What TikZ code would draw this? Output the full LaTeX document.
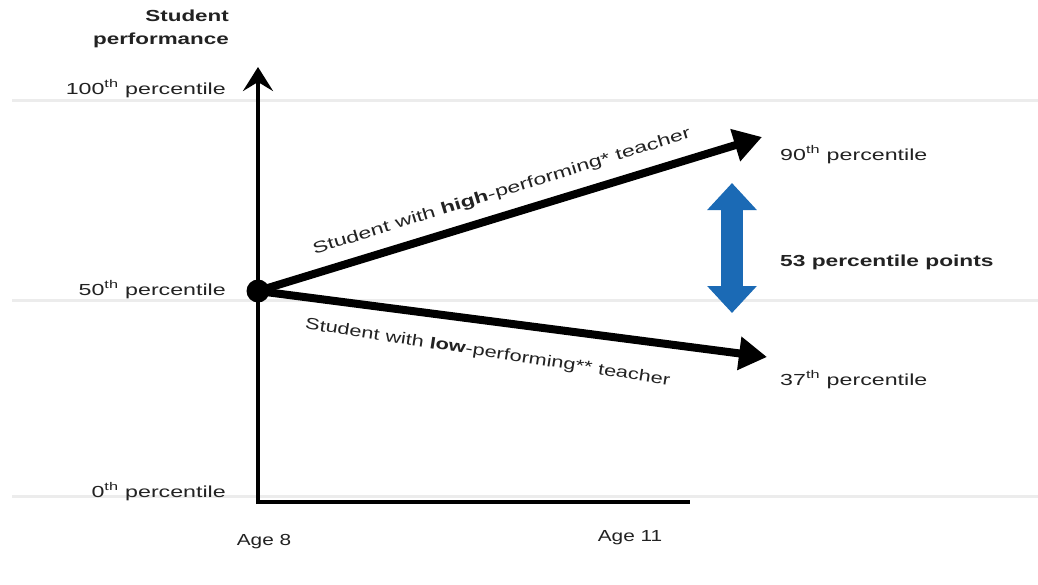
\documentclass[tikz,border=0pt]{standalone}
\usepackage{fontspec}
\setmainfont{Liberation Sans}
\usetikzlibrary{arrows.meta}
\definecolor{gridgray}{HTML}{ECECEC}
\definecolor{gapblue}{HTML}{1B6AB5}
\definecolor{txtgray}{HTML}{222222}
\newcommand{\wx}[2][1.45]{\scalebox{#1}[1]{#2}}
\newcommand{\thsup}{\textsuperscript{th}}
\begin{document}
\begin{tikzpicture}[x=1pt,y=-1pt,
  font=\fontsize{16}{19}\selectfont,
  lbl/.style={inner sep=0pt, text=txtgray},
  gridline/.style={gridgray, line width=3pt},
  axisline/.style={black, line width=4pt},
  trend/.style={black, line width=8pt, -{Triangle[length=28pt,width=32pt]}},
  gaparrow/.style={gapblue, line width=22pt, {Triangle[length=27pt,width=48pt]}-{Triangle[length=27pt,width=48pt]}},
  dotnode/.style={circle, fill=black, inner sep=0pt, minimum size=23pt}]
\useasboundingbox (0,0) rectangle (1038,584);
\fill[white] (0,0) rectangle (1038,584);
% grid lines
\coordinate (g100a) at (12,100);  \coordinate (g100b) at (1038,100);
\coordinate (g50a) at (12,300);   \coordinate (g50b) at (1038,300);
\coordinate (g0a) at (12,496);    \coordinate (g0b) at (1038,496);
\draw[gridline] (g100a) -- (g100b);
\draw[gridline] (g50a) -- (g50b);
\draw[gridline] (g0a) -- (g0b);
% axes
\coordinate (origin) at (258,502);
\coordinate (ytip) at (258,67);
\coordinate (xend) at (690,502);
\draw[axisline, line cap=butt, -{Stealth[length=24pt,width=30pt,inset=9pt]}] ([yshift=-2pt]origin) -- (ytip);
\draw[axisline] ([xshift=-2pt]origin) -- (xend);
% start dot and trend arrows
\node[dotnode] (start) at (258,291) {};
\coordinate (hitip) at (762,137);
\coordinate (lotip) at (767,357);
\draw[trend] (start.center) -- (hitip);
\draw[trend] (start.center) -- (lotip);
% gap arrow
\coordinate (gtop) at (732,183);
\coordinate (gbot) at (732,313);
\draw[gaparrow] (gtop) -- (gbot);
% y-axis labels
\node[lbl, anchor=base east, align=right] (ytitle1) at (229,21) {\wx[1.4]{\textbf{Student}}};
\node[lbl, anchor=base east, align=right] (ytitle2) at (229,44) {\wx[1.4]{\textbf{performance}}};
\node[lbl, anchor=base east] (p100) at (226,94) {\wx{100\thsup{} percentile}};
\node[lbl, anchor=base east] (p50) at (226,295) {\wx{50\thsup{} percentile}};
\node[lbl, anchor=base east] (p0) at (226,497) {\wx{0\thsup{} percentile}};
% x-axis labels
\node[lbl, anchor=base] (age8) at (264,545) {\wx[1.3]{Age 8}};
\node[lbl, anchor=base] (age11) at (630,541) {\wx[1.3]{Age 11}};
% right labels
\node[lbl, anchor=base west] (p90) at (780,160) {\wx{90\thsup{} percentile}};
\node[lbl, anchor=base west] (p37) at (780,385) {\wx{37\thsup{} percentile}};
\node[lbl, anchor=base west] (gaplbl) at (780,266) {\wx[1.42]{\textbf{53 percentile points}}};
% trend labels
\node[lbl, anchor=base, rotate=17.2] (hilbl) at (503,196) {\wx{Student with \textbf{high}-performing* teacher}};
\node[lbl, anchor=base, rotate=-8.8] (lolbl) at (487,357) {\wx[1.36]{Student with \textbf{low}-performing** teacher}};
\end{tikzpicture}
\end{document}
